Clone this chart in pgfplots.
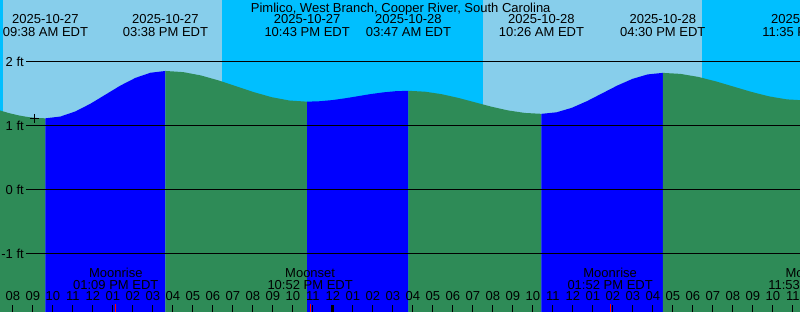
\documentclass[border=0pt]{standalone}
\usepackage{pgfplots}
\pgfplotsset{compat=1.18}
\usepackage{fontspec}
\setmainfont{Liberation Sans}
\definecolor{daysky}{RGB}{135,206,235}
\definecolor{nightsky}{RGB}{0,191,255}
\definecolor{flood}{RGB}{0,0,255}
\definecolor{ebb}{RGB}{46,139,87}
\newcommand\lf{\fontsize{13bp}{14bp}\selectfont}
\tikzset{lbl/.style={font=\lf, anchor=base, inner sep=0pt}}
\begin{document}
\begin{tikzpicture}
\useasboundingbox (0,0) rectangle (800bp,312bp);
\clip (0,0) rectangle (800bp,312bp);
\begin{axis}[
  at={(0,0)}, anchor=south west,
  scale only axis, width=800bp, height=312bp,
  xmin=7.36, xmax=47.36, ymin=-1.90625, ymax=2.96875,
  axis line style={draw=none},
  axis on top=true,
  tick align=inside,
  major tick length=7bp,
  xtick pos=left,
  xtick={8,...,47},
  xticklabels={08,09,10,11,12,01,02,03,04,05,06,07,08,09,10,11,12,01,02,03,04,05,06,07,08,09,10,11,12,01,02,03,04,05,06,07,08,09,10,11},
  xtick style={black, line width=1bp},
  xticklabel style={font=\lf, anchor=base, yshift=11.3bp, inner sep=0pt},
  ytick={-1,0,1,2},
  yticklabels={-1 ft,0 ft,1 ft,2 ft},
  ytick style={draw=none},
  yticklabel style={font=\lf, anchor=east, xshift=24bp, inner sep=0pt},
]
% sky: night / day
\addplot[fill=nightsky, draw=none] coordinates {(7.0,-2) (7.0,3) (7.51,3) (7.51,-2)} -- cycle;
\addplot[fill=daysky, draw=none] coordinates {(7.51,-2) (7.51,3) (18.48,3) (18.48,-2)} -- cycle;
\addplot[fill=nightsky, draw=none] coordinates {(18.48,-2) (18.48,3) (31.53,3) (31.53,-2)} -- cycle;
\addplot[fill=daysky, draw=none] coordinates {(31.53,-2) (31.53,3) (42.48,3) (42.48,-2)} -- cycle;
\addplot[fill=nightsky, draw=none] coordinates {(42.48,-2) (42.48,3) (48.0,3) (48.0,-2)} -- cycle;
% tide: ebb (green) and flood (blue)
\addplot[fill=ebb, draw=none] coordinates {(7.30,-2) (7.30,1.248) (7.8,1.202) (8.3,1.165) (8.8,1.138) (9.2,1.125) (9.633,1.120) (9.633,-2)} -- cycle;
\addplot[fill=flood, draw=none] coordinates {(9.633,-2) (9.633,1.120) (10.383,1.148) (11.133,1.228) (11.883,1.348) (12.633,1.490) (13.383,1.632) (14.133,1.752) (14.883,1.832) (15.633,1.860) (15.633,-2)} -- cycle;
\addplot[fill=ebb, draw=none] coordinates {(15.633,-2) (15.633,1.860) (16.519,1.842) (17.404,1.790) (18.290,1.712) (19.175,1.620) (20.061,1.528) (20.946,1.450) (21.832,1.398) (22.717,1.380) (22.717,-2)} -- cycle;
\addplot[fill=flood, draw=none] coordinates {(22.717,-2) (22.717,1.380) (23.350,1.387) (23.983,1.405) (24.617,1.433) (25.250,1.465) (25.883,1.498) (26.517,1.525) (27.150,1.544) (27.783,1.550) (27.783,-2)} -- cycle;
\addplot[fill=ebb, draw=none] coordinates {(27.783,-2) (27.783,1.550) (28.614,1.536) (29.446,1.497) (30.277,1.439) (31.108,1.370) (31.939,1.301) (32.771,1.243) (33.602,1.204) (34.433,1.190) (34.433,-2)} -- cycle;
\addplot[fill=flood, draw=none] coordinates {(34.433,-2) (34.433,1.190) (35.191,1.214) (35.950,1.284) (36.708,1.388) (37.467,1.510) (38.225,1.632) (38.983,1.736) (39.742,1.806) (40.500,1.830) (40.500,-2)} -- cycle;
\addplot[fill=ebb, draw=none] coordinates {(40.500,-2) (40.500,1.830) (41.385,1.814) (42.271,1.767) (43.156,1.697) (44.042,1.615) (44.927,1.533) (45.812,1.463) (46.698,1.416) (47.583,1.400) (47.583,-2)} -- cycle;
% datum lines
\addplot[black, line width=1bp] coordinates {(8.66,2) (48,2)};
\addplot[black, line width=1bp] coordinates {(8.66,1) (48,1)};
\addplot[black, line width=1bp] coordinates {(8.66,0) (48,0)};
\addplot[black, line width=1bp] coordinates {(8.66,-1) (48,-1)};
% current-time mark
\addplot[only marks, mark=+, mark size=4.5bp, black, line width=1bp] coordinates {(9.075,1.12)};
% moon event ticks and midnight tick
\addplot[red, line width=1bp] coordinates {(13.15,-1.91) (13.15,-1.78)};
\addplot[red, line width=1bp] coordinates {(22.867,-1.91) (22.867,-1.78)};
\addplot[red, line width=1bp] coordinates {(37.867,-1.91) (37.867,-1.78)};
\addplot[black, line width=3bp] coordinates {(24,-1.91) (24,-1.797)};
% title
\node[lbl] at (axis cs:27.395,2.781) {Pimlico, West Branch, Cooper River, South Carolina};
% tide events
\node[lbl] at (axis cs:9.633,2.594) {2025-10-27};
\node[lbl] at (axis cs:9.633,2.406) {09:38 AM EDT};
\node[lbl] at (axis cs:15.633,2.594) {2025-10-27};
\node[lbl] at (axis cs:15.633,2.406) {03:38 PM EDT};
\node[lbl] at (axis cs:22.717,2.594) {2025-10-27};
\node[lbl] at (axis cs:22.717,2.406) {10:43 PM EDT};
\node[lbl] at (axis cs:27.783,2.594) {2025-10-28};
\node[lbl] at (axis cs:27.783,2.406) {03:47 AM EDT};
\node[lbl] at (axis cs:34.433,2.594) {2025-10-28};
\node[lbl] at (axis cs:34.433,2.406) {10:26 AM EDT};
\node[lbl] at (axis cs:40.5,2.594) {2025-10-28};
\node[lbl] at (axis cs:40.5,2.406) {04:30 PM EDT};
\node[lbl] at (axis cs:47.583,2.594) {2025-10-28};
\node[lbl] at (axis cs:47.583,2.406) {11:35 PM EDT};
% moon events
\node[lbl] at (axis cs:13.15,-1.370) {Moonrise};
\node[lbl] at (axis cs:13.15,-1.552) {01:09 PM EDT};
\node[lbl] at (axis cs:22.867,-1.370) {Moonset};
\node[lbl] at (axis cs:22.867,-1.552) {10:52 PM EDT};
\node[lbl] at (axis cs:37.867,-1.370) {Moonrise};
\node[lbl] at (axis cs:37.867,-1.552) {01:52 PM EDT};
\node[lbl] at (axis cs:47.883,-1.370) {Moonset};
\node[lbl] at (axis cs:47.883,-1.552) {11:53 PM EDT};
\end{axis}
\end{tikzpicture}
\end{document}
